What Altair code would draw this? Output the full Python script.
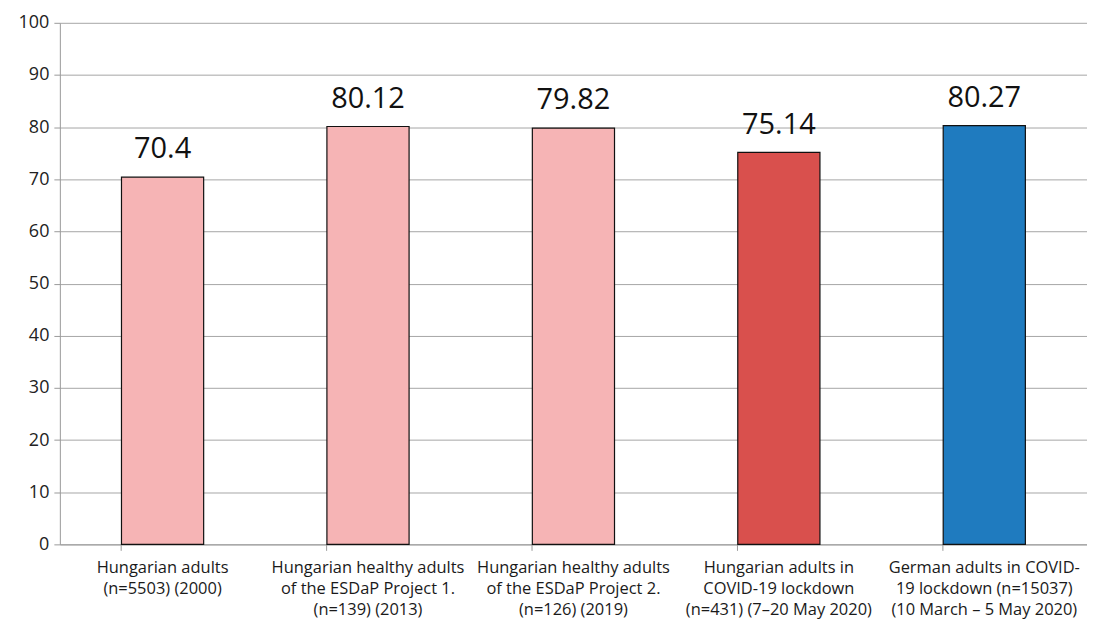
import altair as alt
import pandas as pd

categories = [
    "Hungarian adults|(n=5503) (2000)",
    "Hungarian healthy adults|of the ESDaP Project 1.|(n=139) (2013)",
    "Hungarian healthy adults|of the ESDaP Project 2.|(n=126) (2019)",
    "Hungarian adults in|COVID-19 lockdown|(n=431) (7–20 May 2020)",
    "German adults in COVID-|19 lockdown (n=15037)|(10 March – 5 May 2020)",
]
values = [70.4, 80.12, 79.82, 75.14, 80.27]
value_labels = ["70.4", "80.12", "79.82", "75.14", "80.27"]
colors = ["#F6B4B5", "#F6B4B5", "#F6B4B5", "#D9504D", "#1F7BBF"]

df = pd.DataFrame({"cat": categories, "value": values, "label": value_labels, "color": colors})

FONT = "Open Sans"

x = alt.X(
    "cat:N",
    sort=categories,
    title=None,
    scale=alt.Scale(paddingInner=0.6, paddingOuter=0.3),
    axis=alt.Axis(
        labelExpr="split(datum.label, '|')",
        labelAngle=0,
        labelFontSize=16.5,
        labelLineHeight=21,
        labelFont=FONT,
        labelColor="#1a1a1a",
        labelPadding=9,
        labelBaseline="top",
        bandPosition=0,
        tickColor="#9a9a9a",
        tickSize=6,
        domainColor="#9a9a9a",
        grid=False,
        labelOverlap=False,
        labelLimit=300,
    ),
)

y = alt.Y(
    "value:Q",
    title=None,
    scale=alt.Scale(domain=[0, 100], nice=False),
    axis=alt.Axis(
        values=list(range(0, 101, 10)),
        labelFontSize=18,
        labelFont=FONT,
        labelColor="#222222",
        labelPadding=5,
        tickColor="#9a9a9a",
        tickSize=6,
        domainColor="#9a9a9a",
        gridColor="#a6a6a6",
        gridWidth=1,
    ),
)

bars = alt.Chart(df).mark_bar(stroke="#111111", strokeWidth=1.2).encode(
    x=x, y=y, color=alt.Color("color:N", scale=None)
)

text = alt.Chart(df).mark_text(
    baseline="bottom", dy=-13, fontSize=29, font=FONT, color="#111111"
).encode(x=alt.X("cat:N", sort=categories), y="value:Q", text="label:N")

chart = (
    alt.layer(bars, text)
    .properties(
        width=1030,
        height=523,
        autosize=alt.AutoSizeParams(type="none"),
        padding={"left": 52, "top": 14, "right": 0, "bottom": 78},
        background="white",
    )
    .configure_view(stroke=None)
)

chart.save("out.html", embed_options={"renderer": "svg", "actions": False})
